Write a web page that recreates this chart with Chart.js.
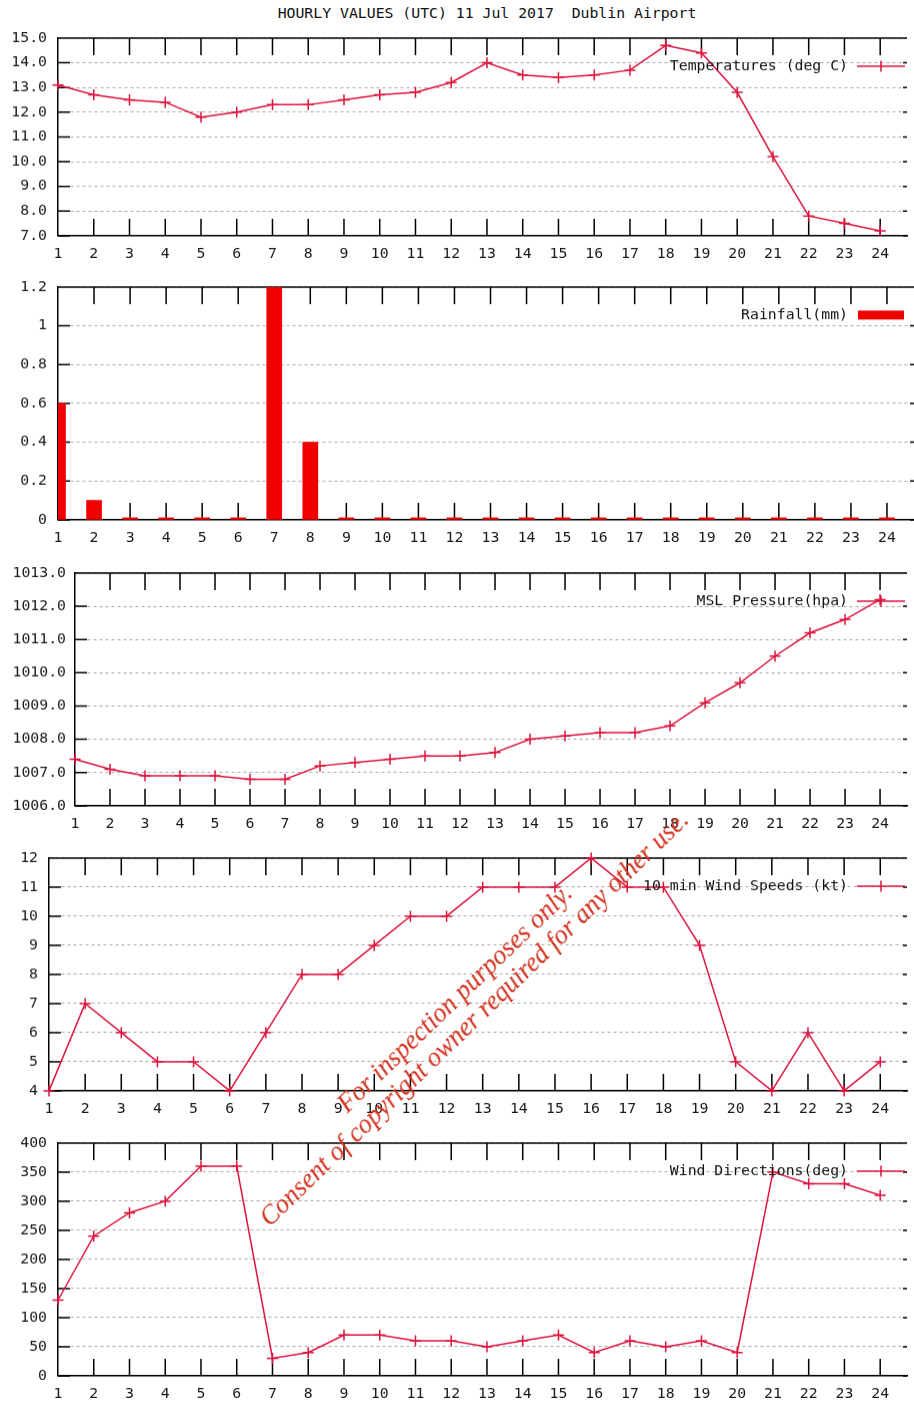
<!DOCTYPE html>
<html>
<head>
<meta charset="utf-8">
<title>Hourly values Dublin Airport</title>
<script src="https://cdn.jsdelivr.net/npm/chart.js@4.4.0/dist/chart.umd.min.js"></script>
<style>
    body { margin: 0; background: #fff; width: 914px; height: 1405px; position: relative; overflow: hidden; }
    canvas { position: absolute; left: 0; }
    #title { position: absolute; top: 4px; left: 487px; transform: translateX(-50%); white-space: nowrap;
             font: 14.8px "DejaVu Sans Mono", monospace; line-height: 17px; color: #111; }
    #stamp { position: absolute; left: 114px; top: 980px; width: 700px; height: 56px; text-align: center;
             font: italic 26.5px "Liberation Serif", "Times New Roman", serif; line-height: 28px;
             color: rgb(212, 50, 32); transform: rotate(-44deg); transform-origin: 50% 50%; white-space: nowrap; }
</style>
</head>
<body>
<div id="title">HOURLY VALUES (UTC) 11 Jul 2017&nbsp; Dublin Airport</div>
<canvas id="chartTemp"></canvas>
<canvas id="chartRain"></canvas>
<canvas id="chartPressure"></canvas>
<canvas id="chartSpeed"></canvas>
<canvas id="chartDir"></canvas>
<div id="stamp">For inspection purposes only.<br>Consent of copyright owner required for any other use.</div>

<script>
var hours = [1, 2, 3, 4, 5, 6, 7, 8, 9, 10, 11, 12, 13, 14, 15, 16, 17, 18, 19, 20, 21, 22, 23, 24];
var temperature = [13.1, 12.7, 12.5, 12.4, 11.8, 12.0, 12.3, 12.3, 12.5, 12.7, 12.8, 13.2,
                   14.0, 13.5, 13.4, 13.5, 13.7, 14.7, 14.4, 12.8, 10.2, 7.8, 7.5, 7.2];
var rainfall = [0.6, 0.1, 0, 0, 0, 0, 1.2, 0.4, 0, 0, 0, 0,
                0, 0, 0, 0, 0, 0, 0, 0, 0, 0, 0, 0];
var pressure = [1007.4, 1007.1, 1006.9, 1006.9, 1006.9, 1006.8, 1006.8, 1007.2, 1007.3, 1007.4, 1007.5, 1007.5,
                1007.6, 1008.0, 1008.1, 1008.2, 1008.2, 1008.4, 1009.1, 1009.7, 1010.5, 1011.2, 1011.6, 1012.2];
var windSpeed = [4, 7, 6, 5, 5, 4, 6, 8, 8, 9, 10, 10, 11, 11, 11, 12, 11, 11, 9, 5, 4, 6, 4, 5];
var windDir = [130, 240, 280, 300, 360, 360, 30, 40, 70, 70, 60, 60,
               50, 60, 70, 40, 60, 50, 60, 40, 350, 330, 330, 310];

var labelTemp = "Temperatures (deg C)";
var labelRain = "Rainfall(mm)";
var labelPressure = "MSL Pressure(hpa)";
var labelSpeed = "10 min Wind Speeds (kt)";
var labelDir = "Wind Directions(deg)";

var LINE_RED = "rgb(220, 20, 60)";
var BAR_RED = "#f00000";
var FONT_FAMILY = '"DejaVu Sans Mono", monospace';
var FONT_SIZE = 14.8;
var AXIS_H = 36;

function toPoints(values) {
    return hours.map(function (h, i) {
        return { x: h, y: values[i] };
    });
}

// box, inner ticks and mirror ticks like gnuplot draws them
var framePlugin = {
    id: 'frame',
    beforeDatasetsDraw: function (chart) {
        var a = chart.chartArea;
        var ctx = chart.ctx;
        var xs = chart.scales.x;
        var ys = chart.scales.y;
        ctx.save();
        ctx.strokeStyle = "#000";
        ctx.lineWidth = 1.5;
        ctx.beginPath();
        ctx.moveTo(a.left, a.top);
        ctx.lineTo(a.right, a.top);
        xs.ticks.forEach(function (t) {
            var x = xs.getPixelForValue(t.value);
            if (x <= a.left + 1) {
                return;
            }
            ctx.moveTo(x, a.top);
            ctx.lineTo(x, a.top + 17);
            ctx.moveTo(x, a.bottom);
            ctx.lineTo(x, a.bottom - 17);
        });
        ys.ticks.forEach(function (t) {
            var y = ys.getPixelForValue(t.value);
            ctx.moveTo(a.left, y);
            ctx.lineTo(a.left + 12, y);
            ctx.moveTo(a.right - 4, y);
            ctx.lineTo(a.right, y);
        });
        ctx.stroke();
        ctx.restore();
    }
};

// key in the top right corner: text then sample
var keyPlugin = {
    id: 'key',
    afterDraw: function (chart) {
        var a = chart.chartArea;
        var ctx = chart.ctx;
        var ds = chart.data.datasets[0];
        var y = a.top + 28;
        ctx.save();
        ctx.font = FONT_SIZE + "px " + FONT_FAMILY;
        ctx.fillStyle = "#111";
        ctx.textAlign = "right";
        ctx.textBaseline = "middle";
        ctx.fillText(ds.label, 848, y);
        if (chart.config.type === 'bar') {
            ctx.fillStyle = BAR_RED;
            ctx.fillRect(858, y - 4.5, 46, 9);
        }
        else {
            ctx.strokeStyle = LINE_RED;
            ctx.lineWidth = 1.5;
            ctx.beginPath();
            ctx.moveTo(857, y);
            ctx.lineTo(905, y);
            ctx.moveTo(881, y - 5.5);
            ctx.lineTo(881, y + 5.5);
            ctx.stroke();
        }
        ctx.restore();
    }
};

function makePanel(id, panel, dataset, type) {
    var cv = document.getElementById(id);
    var span = panel.bottom - panel.top;
    cv.width = 914;
    cv.height = span + 40 + AXIS_H;
    cv.style.width = "914px";
    cv.style.height = cv.height + "px";

    var tickFont = { family: FONT_FAMILY, size: FONT_SIZE };
    var chart = new Chart(cv.getContext("2d"), {
        type: type,
        data: { datasets: [dataset] },
        options: {
            responsive: false,
            maintainAspectRatio: false,
            devicePixelRatio: 1,
            animation: false,
            events: [],
            layout: { padding: 0 },
            plugins: { legend: { display: false }, tooltip: { enabled: false }, title: { display: false } },
            scales: {
                x: {
                    type: 'linear',
                    min: 1,
                    max: panel.xMax,
                    offset: false,
                    grid: { display: false, drawTicks: false, offset: false },
                    border: { display: true, color: "#000", width: 1.5 },
                    ticks: {
                        stepSize: 1,
                        includeBounds: false,
                        autoSkip: false,
                        maxRotation: 0,
                        padding: 9,
                        color: "#1a1a1a",
                        font: tickFont
                    },
                    afterFit: function (scale) { scale.height = AXIS_H; }
                },
                y: {
                    min: panel.yMin,
                    max: panel.yMax,
                    grid: { color: "#a8a8a8", lineWidth: 1, drawTicks: false },
                    border: { display: true, color: "#000", width: 1.5, dash: [3, 3] },
                    ticks: {
                        stepSize: panel.yStep,
                        padding: panel.labelGap,
                        color: "#1a1a1a",
                        font: tickFont,
                        callback: function (v) {
                            return panel.decimals ? Number(v).toFixed(panel.decimals) : String(Math.round(v * 10) / 10);
                        }
                    },
                    afterFit: function (scale) { scale.width = panel.left; }
                }
            }
        },
        plugins: [framePlugin, keyPlugin]
    });

    // the top margin depends on the label size, so fit the canvas after the first layout
    var top = chart.chartArea.top;
    chart.resize(914, top + span + AXIS_H);
    cv.style.top = (panel.top - chart.chartArea.top) + "px";
    return chart;
}

function lineSet(label, values) {
    return {
        label: label,
        data: toPoints(values),
        borderColor: LINE_RED,
        backgroundColor: LINE_RED,
        borderWidth: 1.5,
        tension: 0,
        fill: false,
        pointStyle: 'cross',
        pointRadius: 5.5,
        pointBorderWidth: 1.5,
        pointBorderColor: LINE_RED,
        clip: false
    };
}

makePanel("chartTemp", { left: 58, top: 38, bottom: 235, xMax: 24.75, yMin: 7, yMax: 15, yStep: 1, decimals: 1, labelGap: 11 },
    lineSet(labelTemp, temperature), 'line');

makePanel("chartRain", { left: 58, top: 287, bottom: 519, xMax: 24.75, yMin: 0, yMax: 1.2, yStep: 0.2, decimals: 0, labelGap: 11 },
    {
        label: labelRain,
        data: toPoints(rainfall),
        backgroundColor: BAR_RED,
        borderWidth: 0,
        barThickness: 15,
        minBarLength: 2,
        clip: 0
    }, 'bar');

makePanel("chartPressure", { left: 75, top: 573, bottom: 805, xMax: 24.77, yMin: 1006, yMax: 1013, yStep: 1, decimals: 1, labelGap: 9 },
    lineSet(labelPressure, pressure), 'line');

makePanel("chartSpeed", { left: 49, top: 858, bottom: 1090, xMax: 24.74, yMin: 4, yMax: 12, yStep: 1, decimals: 0, labelGap: 11 },
    lineSet(labelSpeed, windSpeed), 'line');

makePanel("chartDir", { left: 58, top: 1143, bottom: 1375, xMax: 24.75, yMin: 0, yMax: 400, yStep: 50, decimals: 0, labelGap: 11 },
    lineSet(labelDir, windDir), 'line');
</script>
</body>
</html>
